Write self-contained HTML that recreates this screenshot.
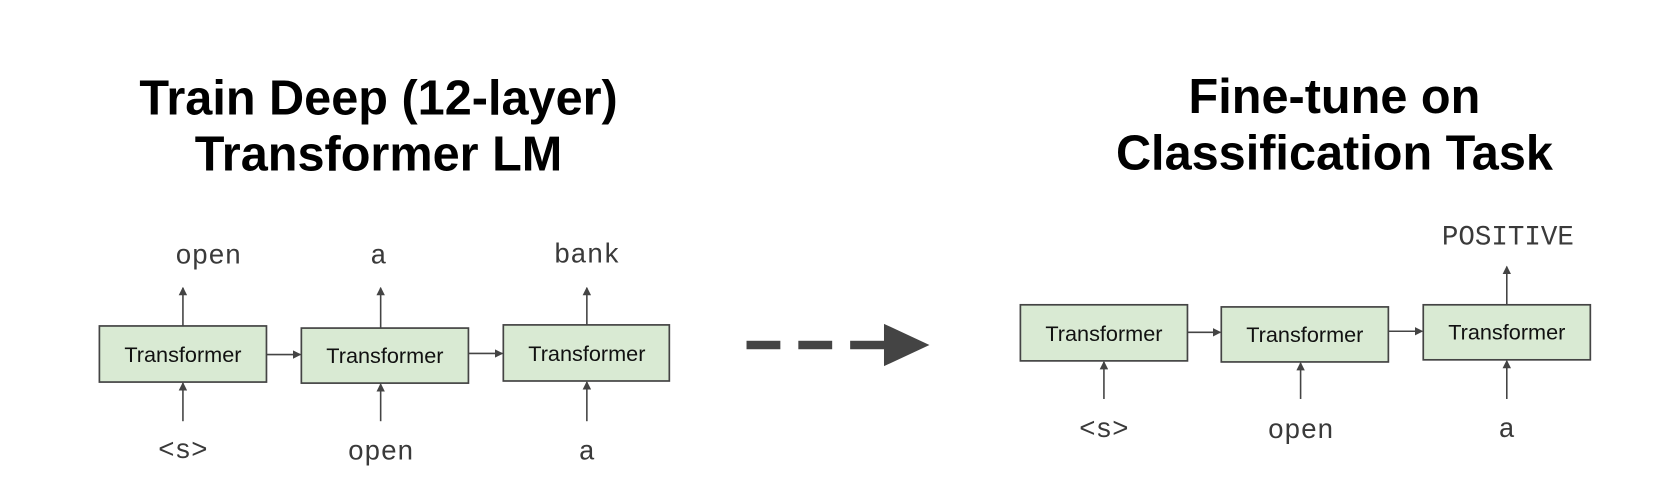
<!DOCTYPE html>
<html><head><meta charset="utf-8"><style>
html,body{margin:0;padding:0;background:#fff;width:1658px;height:490px;overflow:hidden}
svg{display:block}
.t{font-family:"Liberation Sans",sans-serif;font-weight:bold;font-size:46px;fill:#000;text-anchor:middle}
.b{font-family:"Liberation Sans",sans-serif;font-size:20.5px;fill:#111;text-anchor:middle}
.m{font-family:"Liberation Mono",monospace;font-size:26px;fill:#3a3a3a;text-anchor:middle}
rect.box{fill:#d9ead3;stroke:#444;stroke-width:1.6}
line.c{stroke:#444;stroke-width:1.5}
</style></head><body>
<svg width="1658" height="490" viewBox="0 0 1568 463" preserveAspectRatio="none">
<defs><marker id="a" markerWidth="8" markerHeight="8" refX="7" refY="4" orient="auto" markerUnits="userSpaceOnUse"><path d="M0,0 L8,4 L0,8 z" fill="#444"/></marker></defs>
<text class="t" x="358" y="108">Train Deep (12-layer)</text>
<text class="t" x="358" y="161">Transformer LM</text>
<text class="t" x="1262" y="107">Fine-tune on</text>
<text class="t" x="1262" y="160">Classification Task</text>

<rect class="box" x="94" y="308" width="158" height="53"/>
<rect class="box" x="285" y="310" width="158" height="52"/>
<rect class="box" x="476" y="307" width="157" height="53"/>
<text class="b" x="173" y="342">Transformer</text>
<text class="b" x="364" y="343">Transformer</text>
<text class="b" x="555" y="341">Transformer</text>
<line class="c" x1="252" y1="335" x2="284" y2="335" marker-end="url(#a)"/>
<line class="c" x1="443" y1="334" x2="475" y2="334" marker-end="url(#a)"/>
<line class="c" x1="173" y1="308" x2="173" y2="272" marker-end="url(#a)"/>
<line class="c" x1="360" y1="310" x2="360" y2="272" marker-end="url(#a)"/>
<line class="c" x1="555" y1="307" x2="555" y2="272" marker-end="url(#a)"/>
<line class="c" x1="173" y1="398" x2="173" y2="362" marker-end="url(#a)"/>
<line class="c" x1="360" y1="398" x2="360" y2="363" marker-end="url(#a)"/>
<line class="c" x1="555" y1="398" x2="555" y2="361" marker-end="url(#a)"/>
<text class="m" x="197" y="249">open</text>
<text class="m" x="358" y="249">a</text>
<text class="m" x="555" y="248">bank</text>
<text class="m" x="173" y="433">&lt;s&gt;</text>
<text class="m" x="360" y="434">open</text>
<text class="m" x="555" y="434">a</text>

<rect x="706" y="322" width="32" height="8" fill="#444"/>
<rect x="755" y="322" width="32" height="8" fill="#444"/>
<rect x="804" y="322" width="34" height="8" fill="#444"/>
<path d="M836,306 L879,326 L836,346 z" fill="#444"/>

<rect class="box" x="965" y="288" width="158" height="53"/>
<rect class="box" x="1155" y="290" width="158" height="52"/>
<rect class="box" x="1346" y="288" width="158" height="52"/>
<text class="b" x="1044" y="322">Transformer</text>
<text class="b" x="1234" y="323">Transformer</text>
<text class="b" x="1425" y="321">Transformer</text>
<line class="c" x1="1123" y1="314" x2="1154" y2="314" marker-end="url(#a)"/>
<line class="c" x1="1313" y1="313" x2="1345" y2="313" marker-end="url(#a)"/>
<line class="c" x1="1425" y1="288" x2="1425" y2="252" marker-end="url(#a)"/>
<line class="c" x1="1044" y1="377" x2="1044" y2="342" marker-end="url(#a)"/>
<line class="c" x1="1230" y1="377" x2="1230" y2="343" marker-end="url(#a)"/>
<line class="c" x1="1425" y1="377" x2="1425" y2="341" marker-end="url(#a)"/>
<text class="m" x="1426" y="231">POSITIVE</text>
<text class="m" x="1044" y="413">&lt;s&gt;</text>
<text class="m" x="1230" y="414">open</text>
<text class="m" x="1425" y="413">a</text>
</svg>
</body></html>
